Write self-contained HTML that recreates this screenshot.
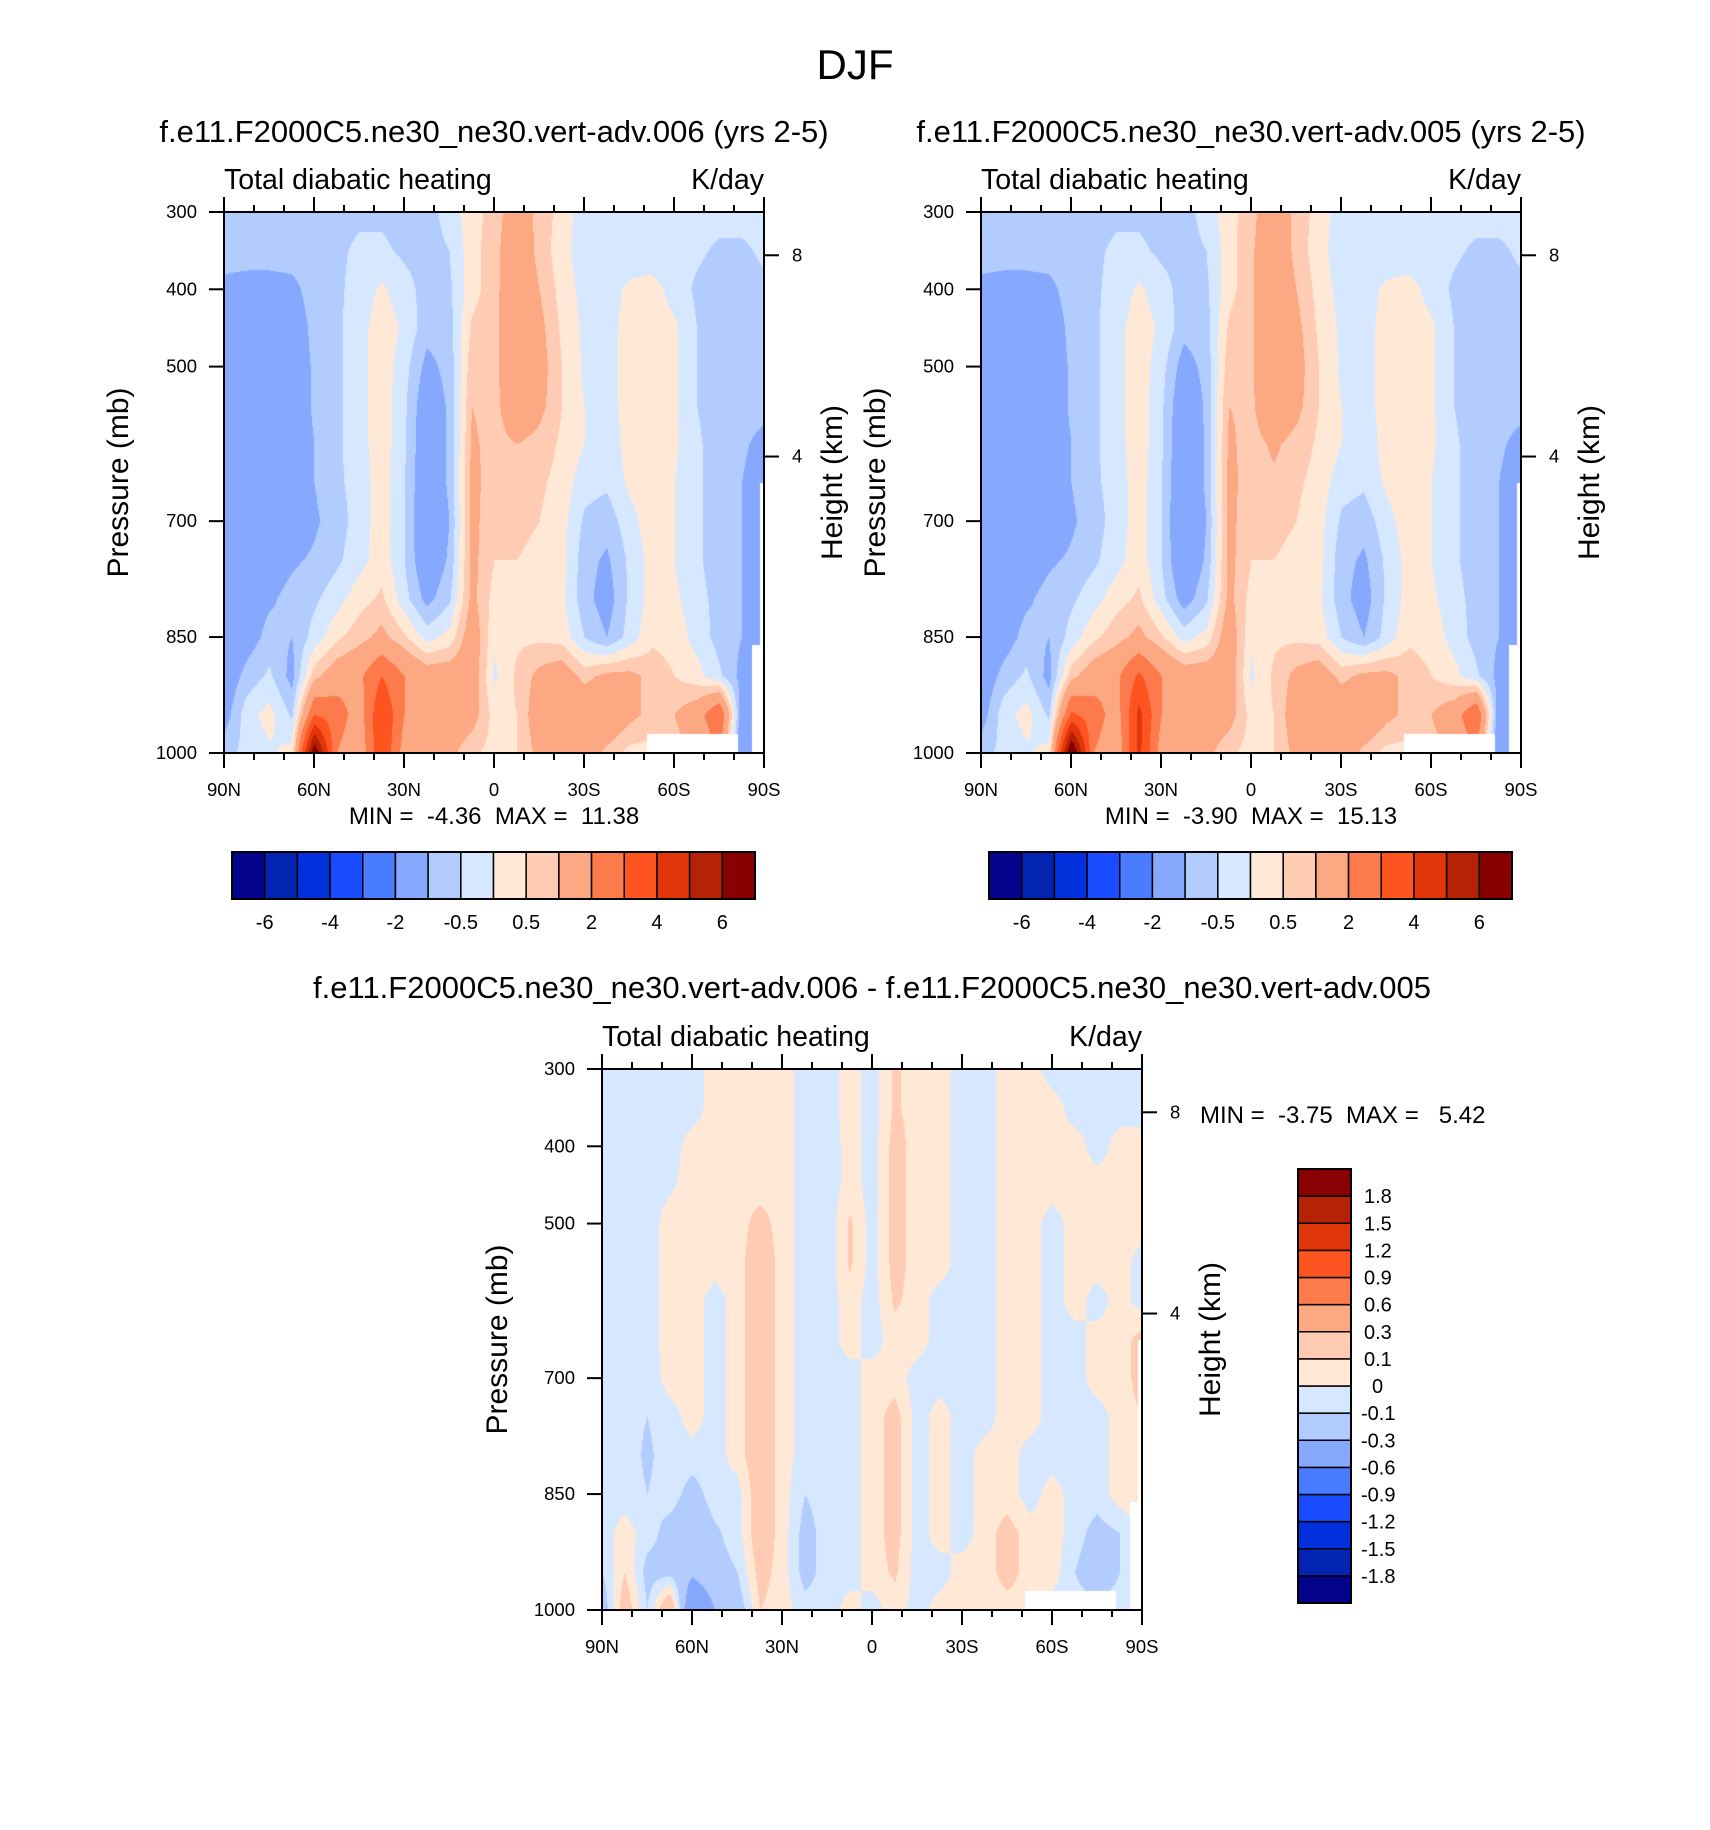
<!DOCTYPE html>
<html><head><meta charset="utf-8">
<style>
body{margin:0;background:#fff;}
#wrap{position:relative;width:1710px;height:1830px;overflow:hidden;background:#fff;font-family:"Liberation Sans",sans-serif;}
canvas{position:absolute;}
svg{position:absolute;left:0;top:0;}
text{white-space:pre;}
</style></head>
<body>
<div id="wrap">
<canvas id="c1" width="540" height="541" style="left:224px;top:212px"></canvas>
<canvas id="c2" width="540" height="541" style="left:981px;top:212px"></canvas>
<canvas id="c3" width="540" height="541" style="left:602px;top:1069px"></canvas>
<svg id="ov" width="1710" height="1830"></svg>
</div>
<script>
// ---- data ----
const lats = [90,82.5,75,67.5,60,52.5,45,37.5,30,22.5,15,7.5,0,-7.5,-15,-22.5,-30,-37.5,-45,-52.5,-60,-67.5,-75,-82.5,-90];
const levels = [300,350,400,450,500,550,600,650,700,750,800,850,900,950,1000];
const fieldA = [
[-0.7,-0.7,-0.7,-0.7,-0.7,-0.7,-0.6,-0.6,-0.7,-0.7,-0.3,0.3,0.7,1.5,0.8,0.3,-0.3,-0.3,-0.3,-0.3,-0.3,-0.3,-0.3,-0.3,-0.3],
[-0.7,-0.7,-0.7,-0.7,-0.7,-0.6,-0.4,-0.4,-0.6,-0.7,-0.5,0.3,0.8,1.6,0.8,0.2,-0.3,-0.3,-0.3,-0.3,-0.3,-0.4,-0.6,-0.6,-0.4],
[-1.2,-1.3,-1.3,-1.2,-0.7,-0.6,-0.3,0.1,-0.3,-0.7,-0.6,0.3,0.8,1.7,1.0,0.3,-0.2,-0.2,0.1,0.2,-0.2,-0.6,-0.8,-0.8,-0.6],
[-1.5,-1.5,-1.5,-1.5,-0.8,-0.6,-0.2,0.3,-0.1,-0.8,-0.7,0.6,0.8,1.8,1.2,0.4,-0.1,-0.2,0.2,0.3,0.1,-0.5,-0.8,-0.8,-0.7],
[-1.5,-1.5,-1.5,-1.5,-0.9,-0.6,-0.2,0.3,-0.3,-1.2,-0.8,0.8,0.8,1.8,1.3,0.5,-0.1,-0.2,0.2,0.3,0.1,-0.5,-0.8,-0.8,-0.7],
[-1.5,-1.5,-1.5,-1.5,-0.9,-0.6,-0.2,0.3,-0.4,-1.5,-0.9,1.0,0.8,1.6,1.2,0.5,0.0,-0.2,0.2,0.3,0.1,-0.5,-0.8,-0.8,-0.8],
[-1.5,-1.5,-1.5,-1.5,-1.0,-0.6,-0.2,0.3,-0.4,-1.6,-0.9,1.1,0.8,1.0,0.8,0.4,0.0,-0.3,0.2,0.3,0.1,-0.4,-0.8,-0.9,-1.2],
[-1.5,-1.5,-1.5,-1.5,-1.0,-0.6,-0.3,0.3,-0.5,-1.6,-0.9,1.2,0.7,0.8,0.6,0.3,-0.3,-0.4,0.1,0.3,0.0,-0.4,-0.8,-1.0,-1.4],
[-1.5,-1.5,-1.5,-1.5,-1.1,-0.7,-0.3,0.3,-0.5,-1.7,-1.0,1.2,0.6,0.6,0.5,0.2,-0.6,-0.8,-0.2,0.3,0.0,-0.4,-0.8,-1.0,-1.5],
[-1.6,-1.5,-1.4,-1.1,-0.9,-0.6,-0.2,0.3,-0.5,-1.6,-0.9,1.2,0.5,0.5,0.4,0.2,-0.8,-1.1,-0.4,0.2,0.0,-0.4,-0.8,-1.0,-1.5],
[-1.6,-1.4,-1.1,-0.8,-0.6,-0.2,0.3,0.6,-0.3,-1.2,-0.6,1.2,0.3,0.4,0.3,0.1,-0.8,-1.3,-0.4,0.2,0.1,-0.3,-0.7,-1.0,-1.4],
[-1.6,-1.3,-0.8,-1.0,-0.3,0.4,0.8,1.2,0.6,-0.2,0.2,1.5,0.1,0.4,0.4,0.3,-0.5,-1.0,-0.3,0.4,0.3,-0.2,-0.7,-1.0,-1.3],
[-1.5,-0.8,-0.4,-1.2,0.8,1.5,1.8,3.0,2.0,1.5,1.5,1.5,-0.1,0.6,1.2,1.5,0.8,1.2,1.2,0.8,0.5,0.2,-0.4,-1.2,-1.3],
[-1.3,-0.2,0.2,-0.6,3.0,2.5,1.5,4.0,2.0,1.5,1.5,1.3,0.3,0.5,1.5,1.8,1.8,1.8,1.2,0.8,1.0,1.5,3.0,-1.5,-1.3],
[-0.6,-0.4,-0.1,0.2,7.0,2.0,1.2,4.0,1.5,1.3,1.2,0.6,0.3,0.5,1.2,1.6,1.5,0.8,0.3,0.3,0.8,1.0,2.0,-2.0,-1.3]
];
const fieldB = [
[-0.7,-0.7,-0.7,-0.7,-0.7,-0.7,-0.6,-0.6,-0.7,-0.7,-0.3,0.3,0.8,1.6,0.8,0.3,-0.3,-0.3,-0.3,-0.3,-0.3,-0.3,-0.3,-0.3,-0.3],
[-0.7,-0.7,-0.7,-0.7,-0.7,-0.6,-0.4,-0.4,-0.6,-0.7,-0.5,0.3,0.9,1.7,0.8,0.2,-0.3,-0.3,-0.3,-0.3,-0.3,-0.4,-0.6,-0.6,-0.4],
[-1.2,-1.3,-1.3,-1.2,-0.7,-0.6,-0.3,0.1,-0.3,-0.7,-0.6,0.3,0.9,1.8,1.0,0.3,-0.2,-0.2,0.1,0.2,-0.2,-0.6,-0.8,-0.8,-0.6],
[-1.5,-1.5,-1.5,-1.5,-0.8,-0.6,-0.2,0.3,-0.1,-0.8,-0.7,0.6,0.9,1.8,1.2,0.4,-0.1,-0.2,0.2,0.3,0.1,-0.5,-0.8,-0.8,-0.7],
[-1.5,-1.5,-1.5,-1.5,-0.9,-0.6,-0.2,0.3,-0.3,-1.3,-0.8,0.8,0.9,1.8,1.3,0.5,-0.1,-0.2,0.2,0.3,0.1,-0.5,-0.8,-0.8,-0.7],
[-1.5,-1.5,-1.5,-1.5,-0.9,-0.6,-0.2,0.3,-0.4,-1.6,-0.9,1.0,0.9,1.6,1.2,0.5,0.0,-0.2,0.2,0.3,0.1,-0.5,-0.8,-0.8,-0.8],
[-1.5,-1.5,-1.5,-1.5,-1.0,-0.6,-0.2,0.3,-0.4,-1.7,-0.9,1.1,0.8,1.1,0.8,0.4,0.0,-0.3,0.2,0.3,0.1,-0.4,-0.8,-0.9,-1.2],
[-1.5,-1.5,-1.5,-1.5,-1.0,-0.6,-0.3,0.3,-0.5,-1.7,-0.9,1.2,0.7,0.9,0.6,0.3,-0.3,-0.4,0.1,0.3,0.0,-0.4,-0.8,-1.0,-1.4],
[-1.5,-1.5,-1.5,-1.5,-1.1,-0.7,-0.3,0.3,-0.5,-1.8,-1.0,1.2,0.6,0.6,0.5,0.2,-0.6,-0.8,-0.2,0.3,0.0,-0.4,-0.8,-1.0,-1.5],
[-1.6,-1.5,-1.4,-1.1,-0.9,-0.6,-0.2,0.3,-0.5,-1.7,-0.9,1.2,0.5,0.5,0.4,0.2,-0.8,-1.1,-0.4,0.2,0.0,-0.4,-0.8,-1.0,-1.5],
[-1.6,-1.4,-1.1,-0.8,-0.6,-0.2,0.3,0.6,-0.3,-1.3,-0.6,1.2,0.3,0.4,0.3,0.1,-0.8,-1.3,-0.4,0.2,0.1,-0.3,-0.7,-1.0,-1.4],
[-1.6,-1.3,-0.8,-1.0,-0.3,0.4,0.8,1.2,0.6,-0.2,0.2,1.5,0.1,0.4,0.4,0.3,-0.5,-1.0,-0.3,0.4,0.3,-0.2,-0.7,-1.0,-1.3],
[-1.5,-0.8,-0.4,-1.2,0.8,1.5,1.8,3.2,2.0,1.5,1.5,1.5,-0.1,0.6,1.2,1.5,0.8,1.2,1.2,0.8,0.5,0.2,-0.4,-1.2,-1.3],
[-1.3,-0.2,0.2,-0.6,3.2,2.5,1.5,4.3,2.0,1.5,1.5,1.3,0.3,0.5,1.5,1.8,1.8,1.8,1.2,0.8,1.0,1.5,3.0,-1.5,-1.3],
[-0.6,-0.4,-0.1,0.2,7.5,2.0,1.2,4.3,1.5,1.3,1.2,0.6,0.3,0.5,1.2,1.6,1.5,0.8,0.3,0.3,0.8,1.0,2.0,-2.0,-1.3]
];
const fieldDiff = [
[-0.05,-0.05,-0.05,-0.05,-0.05,0.05,0.05,0.05,0.05,-0.05,-0.05,0.05,-0.05,0.12,0.05,0.05,-0.05,-0.05,0.05,0.05,-0.05,-0.05,-0.05,-0.05,-0.05],
[-0.05,-0.05,-0.05,-0.05,-0.05,0.05,0.05,0.05,0.05,-0.05,-0.05,0.05,-0.05,0.12,0.05,0.05,-0.05,-0.05,0.05,0.05,0.05,-0.05,-0.05,-0.05,-0.05],
[-0.05,-0.05,-0.05,-0.05,0.05,0.05,0.05,0.05,0.05,-0.05,-0.07,0.05,-0.05,0.15,0.05,0.05,-0.05,-0.05,0.05,0.05,0.05,0.05,-0.05,0.05,0.05],
[-0.05,-0.05,-0.05,-0.02,0.05,0.05,0.05,0.05,0.05,-0.05,-0.07,0.05,-0.05,0.15,0.05,0.05,-0.05,-0.05,0.05,0.05,0.05,0.05,0.05,0.05,0.05],
[-0.05,-0.05,-0.05,0.05,0.05,0.05,0.05,0.15,0.05,-0.05,-0.07,0.12,-0.05,0.15,0.05,0.05,-0.05,-0.05,0.05,0.05,-0.05,0.05,0.05,0.05,0.05],
[-0.05,-0.05,-0.05,0.05,0.05,0.05,0.05,0.2,0.05,-0.05,-0.07,0.12,-0.05,0.15,0.05,0.05,-0.05,-0.05,0.05,0.05,-0.05,0.05,0.05,0.05,-0.05],
[-0.05,-0.05,-0.05,0.05,0.05,-0.05,0.05,0.2,0.05,-0.05,-0.05,0.05,-0.05,0.12,0.05,-0.05,-0.05,-0.05,0.05,0.05,-0.05,0.05,-0.05,0.05,-0.05],
[-0.05,-0.05,-0.05,0.05,0.05,-0.05,0.05,0.2,0.05,-0.05,-0.05,0.05,-0.05,0.05,0.05,-0.05,-0.05,-0.05,0.05,0.05,-0.05,-0.05,0.05,0.05,0.15],
[-0.05,-0.05,-0.07,0.05,0.05,-0.05,0.05,0.2,0.05,-0.05,-0.05,-0.05,0.05,0.05,-0.05,-0.05,-0.05,-0.05,0.05,0.05,-0.05,-0.05,0.05,0.05,0.15],
[-0.05,-0.07,-0.1,-0.05,0.05,-0.05,0.05,0.2,0.05,-0.05,-0.05,-0.05,0.05,0.15,-0.05,0.05,-0.05,-0.05,0.05,0.05,-0.05,-0.05,-0.05,0.05,0.1],
[-0.05,-0.05,-0.12,-0.05,-0.05,-0.05,0.05,0.2,0.05,-0.05,-0.05,-0.05,0.05,0.15,-0.05,0.05,-0.05,0.05,0.05,-0.05,-0.05,-0.05,-0.05,0.05,0.1],
[-0.05,-0.05,-0.1,-0.05,-0.15,-0.05,-0.05,0.2,0.05,-0.1,-0.05,-0.05,0.05,0.15,-0.05,0.05,-0.05,0.05,0.05,-0.05,0.05,-0.05,-0.05,0.05,0.05],
[-0.05,0.05,-0.05,-0.15,-0.2,-0.12,-0.05,0.2,0.05,-0.15,-0.05,-0.05,0.05,0.15,-0.05,0.05,-0.05,0.05,0.15,0.05,0.05,-0.05,-0.15,-0.1,0.05],
[-0.1,0.1,-0.15,-0.15,-0.25,-0.15,-0.1,0.15,0.05,-0.15,-0.05,-0.05,0.05,0.12,-0.05,-0.05,0.05,0.05,0.15,0.05,0.05,-0.1,-0.2,-0.1,0.05],
[-0.2,0.2,-0.1,0.3,-0.6,-0.3,-0.2,0.1,0.05,-0.05,-0.05,0.05,-0.05,0.05,-0.05,0.05,0.05,0.05,0.05,0.05,-0.05,-0.05,-0.05,-0.05,0.05]
];
const boundsFull = [-6,-5,-4,-3,-2,-1,-0.5,0,0.5,1,2,3,4,5,6];
const boundsDiff = [-1.8,-1.5,-1.2,-0.9,-0.6,-0.3,-0.1,0,0.1,0.3,0.6,0.9,1.2,1.5,1.8];
const labelsFull = ["-6","","-4","","-2","","-0.5","","0.5","","2","","4","","6"];
const labelsDiff = ["-1.8","-1.5","-1.2","-0.9","-0.6","-0.3","-0.1","0","0.1","0.3","0.6","0.9","1.2","1.5","1.8"];
const xTickLabels = ["90N","60N","30N","0","30S","60S","90S"];
const xTickLats = [90,60,30,0,-30,-60,-90];
const pTicks = [300,400,500,700,850,1000];
const hTicks = [8,4];
const palette = ["#03038c","#0324b0","#0330dd","#1a4cff","#4a7cff","#86a9ff","#b3ccff","#d6e8ff","#ffe8d6","#ffccb3","#fca882","#fc7a4c","#ff5420","#e1360a","#b62205","#880000"];
// missing-data rectangles [latFrom, latTo, pFrom, pTo]
const missing = [[-51,-81,975,1000],[-88.5,-90,650,860],[-86,-90,860,1000]];

// ---- axis functions ----
const W=540,H=541;
function xOf(lat){return (90-lat)/180*W;}
function yOf(p){return (p-300)/700*H;}
function pOfH(km){return 1013.25*Math.pow(1-2.25577e-5*km*1000,5.25588);}
function colorIdx(v,b){let i=0;while(i<b.length&&v>=b[i])i++;return i;}
function hex(h){return [parseInt(h.substr(1,2),16),parseInt(h.substr(3,2),16),parseInt(h.substr(5,2),16)];}
const palRGB=palette.map(hex);

function drawField(id,field,bounds){
  const cv=document.getElementById(id),ctx=cv.getContext('2d');
  const img=ctx.createImageData(W,H);
  const nc=lats.length,nr=levels.length;
  for(let py=0;py<H;py++){
    const p=300+py/H*700;
    let fy=(p-levels[0])/(levels[nr-1]-levels[0])*(nr-1);
    let r0=Math.min(nr-2,Math.floor(fy)),ty=fy-r0;
    for(let px=0;px<W;px++){
      const lat=90-px/W*180;
      let k=(py*W+px)*4;
      let miss=false;
      for(const m of missing){if(lat<=m[0]&&lat>=m[1]&&p>=m[2]&&p<=m[3])miss=true;}
      if(miss){img.data[k]=255;img.data[k+1]=255;img.data[k+2]=255;img.data[k+3]=255;continue;}
      let fx=(lats[0]-lat)/(lats[0]-lats[nc-1])*(nc-1);
      let c0=Math.min(nc-2,Math.floor(fx)),tx=fx-c0;
      const v=(1-ty)*((1-tx)*field[r0][c0]+tx*field[r0][c0+1])+ty*((1-tx)*field[r0+1][c0]+tx*field[r0+1][c0+1]);
      const c=palRGB[colorIdx(v,bounds)];
      img.data[k]=c[0];img.data[k+1]=c[1];img.data[k+2]=c[2];img.data[k+3]=255;
    }
  }
  ctx.putImageData(img,0,0);
}
drawField('c1',fieldA,boundsFull);
drawField('c2',fieldB,boundsFull);
drawField('c3',fieldDiff,boundsDiff);

// ---- svg overlay ----
const NS='http://www.w3.org/2000/svg';
const ov=document.getElementById('ov');
function el(tag,attrs,parent){const e=document.createElementNS(NS,tag);for(const k in attrs)e.setAttribute(k,attrs[k]);(parent||ov).appendChild(e);return e;}
function txt(s,x,y,size,anchor,extra){const t=el('text',Object.assign({x:x,y:y,'font-size':size,'text-anchor':anchor||'middle','font-family':'"Liberation Sans",sans-serif',fill:'#000'},extra||{}));t.textContent=s;return t;}

const t0=txt('DJF',855,79,42);



function panel(L,T,title,titleX,titleY,name,mm,mmX,mmY,mmAnchor,hLabelX,pLabelX){
  const g=el('g',{});
  
  
  const st=txt(title,titleX,titleY,31,'middle');
  
  
  g.appendChild(st);
  const a=txt('Total diabatic heating',L,T-23,28.5,'start');
  
  
  g.appendChild(a);
  const u=txt('K/day',L+W,T-23,28.5,'end');
  
  
  g.appendChild(u);
  const fr=el('rect',{x:L,y:T,width:W,height:H,fill:'none',stroke:'#000','stroke-width':2},g);
  
  
  for(let lat=90;lat>=-90;lat-=10){
    const major=lat%30===0, len=major?15:7, x=L+xOf(lat);
    el('line',{x1:x,x2:x,y1:T,y2:T-len,stroke:'#000','stroke-width':2},g);
    el('line',{x1:x,x2:x,y1:T+H,y2:T+H+len,stroke:'#000','stroke-width':2},g);
  }
  xTickLabels.forEach((s,i)=>{
    const t=txt(s,L+xOf(xTickLats[i]),T+H+43,18.5,'middle');
    
    
    g.appendChild(t);
  });
  pTicks.forEach(p=>{
    const y=T+yOf(p);
    el('line',{x1:L,x2:L-15,y1:y,y2:y,stroke:'#000','stroke-width':2},g);
    const t=txt(String(p),L-27,y+6,18.5,'end');
    
    
    g.appendChild(t);
  });
  hTicks.forEach(h=>{
    const y=T+yOf(pOfH(h));
    el('line',{x1:L+W,x2:L+W+15,y1:y,y2:y,stroke:'#000','stroke-width':2},g);
    const t=txt(String(h),L+W+28,y+6,18.5,'start');
    
    
    g.appendChild(t);
  });
  const cy=T+H/2;
  const pl=txt('Pressure (mb)',pLabelX,cy,30,'middle',{transform:`rotate(-90 ${pLabelX} ${cy})`,dy:'10'});
  
  
  g.appendChild(pl);
  const hl=txt('Height (km)',hLabelX,cy,30,'middle',{transform:`rotate(-90 ${hLabelX} ${cy})`,dy:'10'});
  
  
  g.appendChild(hl);
  const m=txt(mm,mmX,mmY,24,mmAnchor);
  
  
  g.appendChild(m);
}
panel(224,212,'f.e11.F2000C5.ne30_ne30.vert-adv.006 (yrs 2-5)',494,142,'panel-006','MIN =  -4.36  MAX =  11.38',494,824,'middle',832,118);
panel(981,212,'f.e11.F2000C5.ne30_ne30.vert-adv.005 (yrs 2-5)',1251,142,'panel-005','MIN =  -3.90  MAX =  15.13',1251,824,'middle',1589,875);
panel(602,1069,'f.e11.F2000C5.ne30_ne30.vert-adv.006 - f.e11.F2000C5.ne30_ne30.vert-adv.005',872,998,'panel-diff','MIN =  -3.75  MAX =   5.42',1200,1123,'start',1210,497);

function hBar(L,name){
  const g=el('g',{});
  
  
  const w=523/16;
  palette.forEach((c,i)=>{
    const r=el('rect',{x:L+i*w,y:852,width:w,height:47,fill:c,stroke:'#000','stroke-width':1.5},g);
    
    
  });
  el('rect',{x:L,y:852,width:523,height:47,fill:'none',stroke:'#000','stroke-width':2},g);
  labelsFull.forEach((s,i)=>{
    if(!s)return;
    const t=txt(s,L+(i+1)*w,929,20,'middle');
    
    
    g.appendChild(t);
  });
}
hBar(232,'colorbar-006');
hBar(989,'colorbar-005');

(function(){
  const g=el('g',{});
  
  
  const T=1169,h=(1603-1169)/16;
  palette.forEach((c,i)=>{
    const r=el('rect',{x:1298,y:T+(15-i)*h,width:53,height:h,fill:c,stroke:'#000','stroke-width':1.5},g);
    
    
  });
  el('rect',{x:1298,y:T,width:53,height:1603-T,fill:'none',stroke:'#000','stroke-width':2},g);
  labelsDiff.forEach((s,i)=>{
    const y=T+(15-i)*h;
    const t=txt(s,s.startsWith('-')?1361:(s==='0'?1372:1364),y+7,20,'start');
    
    
    g.appendChild(t);
  });
})();
</script>
</body></html>
